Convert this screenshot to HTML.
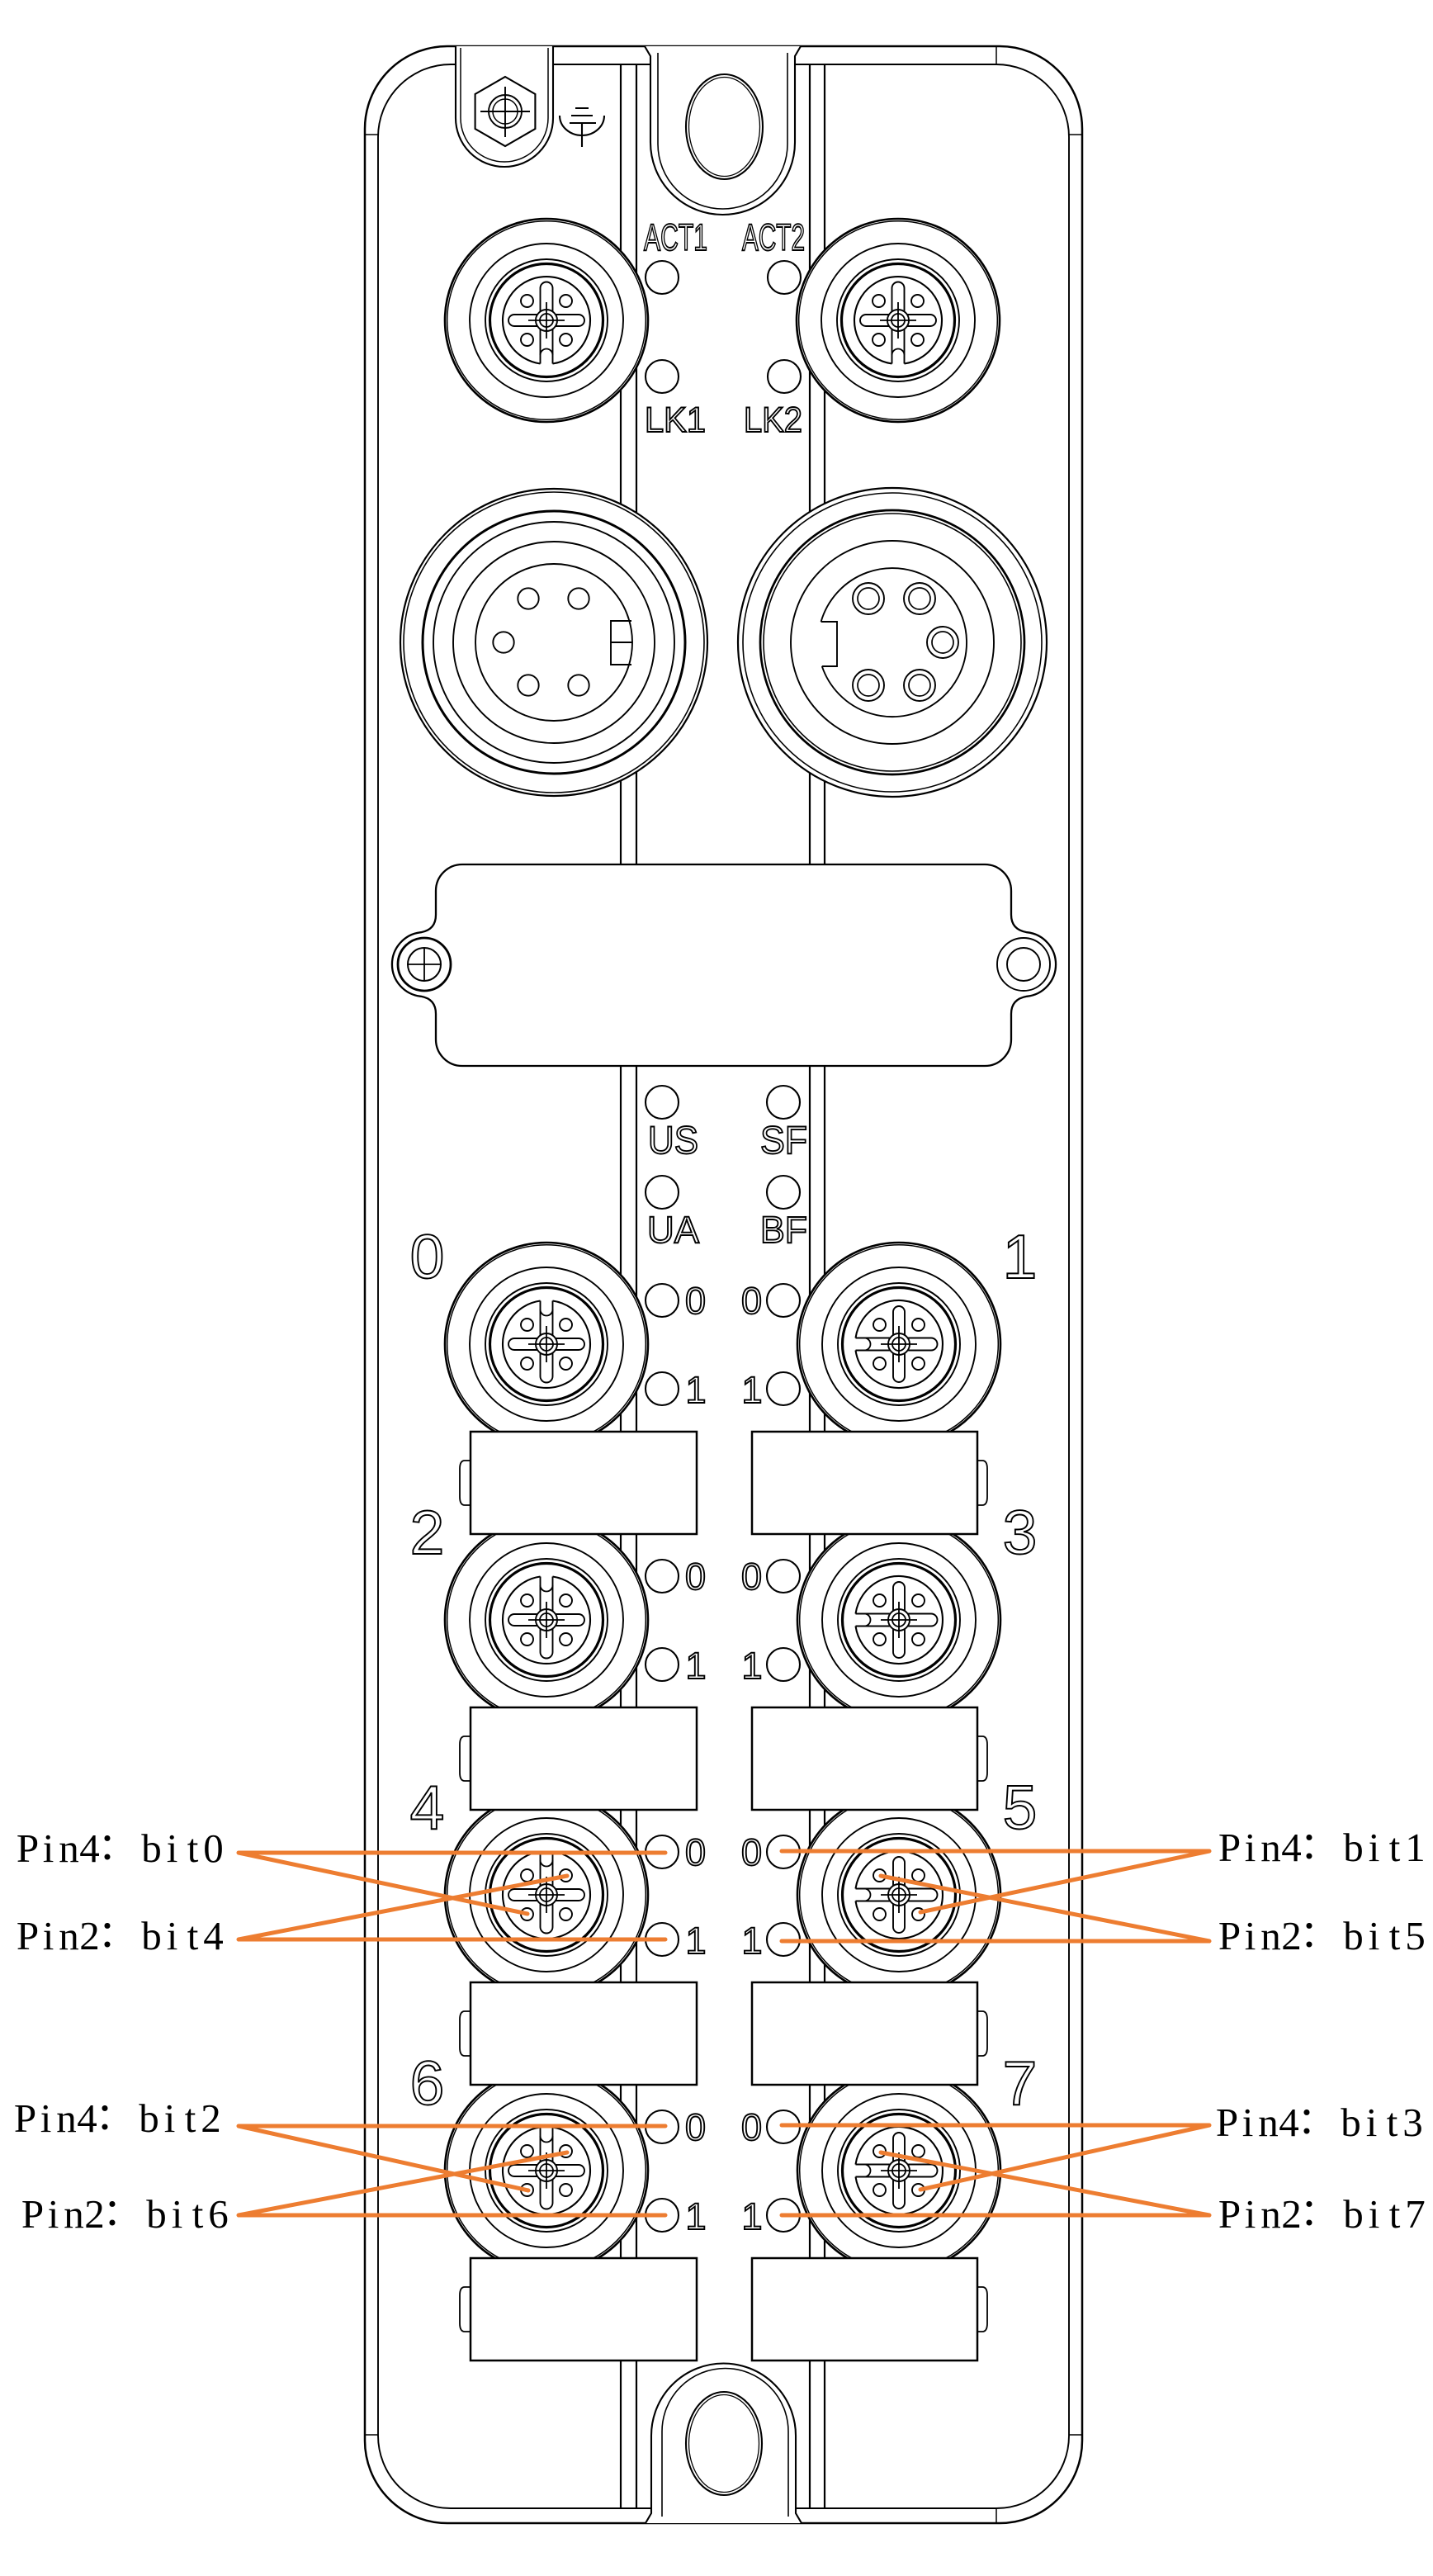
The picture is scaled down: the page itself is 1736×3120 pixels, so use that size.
<!DOCTYPE html>
<html><head><meta charset="utf-8">
<style>
html,body{margin:0;padding:0;background:#fff;}
svg{display:block}
.o{font-family:"Liberation Sans",sans-serif;fill:#fff;stroke:#000;stroke-width:1.9}
.p{font-family:"Liberation Serif","Noto Serif CJK SC",serif;font-size:49px;fill:#000}
.c{font-family:"Liberation Sans","Noto Sans CJK JP",sans-serif;font-size:46px;fill:#000}
</style></head><body>
<svg width="1736" height="3120" viewBox="0 0 1736 3120" xmlns="http://www.w3.org/2000/svg">
<defs>
<g id="m12" fill="none" stroke="#000">
  <circle r="123" fill="#fff" stroke-width="2.6"/>
  <circle r="120.3" stroke-width="1.5"/>
  <circle r="93" stroke-width="1.9"/>
  <circle r="74" stroke-width="1.9"/>
  <circle r="68.5" stroke-width="3.2"/>
  <path d="M-7.5,-52.5 A53,53 0 1 0 7.5,-52.5" stroke-width="2.1"/>
  <path d="M-7.5,-52.5 L-7.5,-7 L-39,-7 A7,7 0 0 0 -39,7 L-7.5,7 L-7.5,39 A7.5,7.5 0 0 0 7.5,39 L7.5,7 L39,7 A7,7 0 0 0 39,-7 L7.5,-7 L7.5,-52.5" stroke-width="1.9"/>
  <path d="M-7.5,-42 A7.5,7.5 0 0 0 7.5,-42" stroke-width="1.8"/>
  <circle cx="-23.5" cy="-23.5" r="7.5" stroke-width="1.9"/>
  <circle cx="23.5" cy="-23.5" r="7.5" stroke-width="1.9"/>
  <circle cx="-23.5" cy="23.5" r="7.5" stroke-width="1.9"/>
  <circle cx="23.5" cy="23.5" r="7.5" stroke-width="1.9"/>
  <circle r="13" fill="#fff" stroke-width="1.9"/>
  <circle r="8" stroke-width="1.8"/>
  <path d="M-22,0 H22 M0,-22 V22" stroke-width="1.8"/>
</g>
<g id="bigL" fill="none" stroke="#000">
  <circle r="186" fill="#fff" stroke-width="2.2"/>
  <circle r="182" stroke-width="1.6"/>
  <circle r="159" stroke-width="3"/>
  <circle r="146" stroke-width="1.9"/>
  <circle r="122" stroke-width="1.9"/>
  <circle r="95" stroke-width="1.9"/>
  <circle cx="-31" cy="-53" r="12.7" stroke-width="1.9"/>
  <circle cx="30" cy="-53" r="12.7" stroke-width="1.9"/>
  <circle cx="-61" cy="0" r="12.7" stroke-width="1.9"/>
  <circle cx="-31" cy="52" r="12.7" stroke-width="1.9"/>
  <circle cx="30" cy="52" r="12.7" stroke-width="1.9"/>
  <path d="M94,-26 H69 V27 H94 M69,0 H95" stroke-width="1.9"/>
</g>
<g id="bigR" fill="none" stroke="#000">
  <circle r="187" fill="#fff" stroke-width="2.2"/>
  <circle r="181" stroke-width="1.6"/>
  <circle r="160" stroke-width="2.7"/>
  <circle r="156" stroke-width="1.6"/>
  <circle r="123" stroke-width="1.9"/>
  <path d="M-86.4,-25 A90,90 0 1 1 -85.2,29" stroke-width="1.9"/>
  <path d="M-86.4,-25 H-67 V29 H-85.2" stroke-width="1.9"/>
  <circle cx="-29" cy="-53" r="19" stroke-width="1.9"/><circle cx="-29" cy="-53" r="13" stroke-width="1.7"/>
  <circle cx="33" cy="-53" r="19" stroke-width="1.9"/><circle cx="33" cy="-53" r="13" stroke-width="1.7"/>
  <circle cx="61" cy="0" r="19" stroke-width="1.9"/><circle cx="61" cy="0" r="13" stroke-width="1.7"/>
  <circle cx="-29" cy="52" r="19" stroke-width="1.9"/><circle cx="-29" cy="52" r="13" stroke-width="1.7"/>
  <circle cx="33" cy="52" r="19" stroke-width="1.9"/><circle cx="33" cy="52" r="13" stroke-width="1.7"/>
</g>
<g id="rectL" fill="#fff" stroke="#000">
  <path d="M570,35 H563 Q557,35 557,45 V79 Q557,89 563,89 H570" stroke-width="1.8"/>
  <rect x="570" y="0" width="274" height="124" stroke-width="2.5"/>
</g>
<g id="rectR" fill="#fff" stroke="#000">
  <path d="M1184,35 H1190 Q1196,35 1196,45 V79 Q1196,89 1190,89 H1184" stroke-width="1.8"/>
  <rect x="911" y="0" width="273" height="124" stroke-width="2.5"/>
</g>
<circle id="led" r="20" fill="#fff" stroke="#000" stroke-width="2.1"/>
</defs>

<rect width="1736" height="3120" fill="#fff"/>
<g fill="none" stroke="#000" stroke-width="2">
  <!-- body -->
  <path d="M542,56 H1211 A100,100 0 0 1 1311,156 V2956 A100,100 0 0 1 1211,3056 H542 A100,100 0 0 1 442,2956 V156 A100,100 0 0 1 542,56 Z" fill="#fff" stroke-width="2.5"/>
  <path d="M546,78 H1207 A88,88 0 0 1 1295,166 V2950 A88,88 0 0 1 1207,3038 H546 A88,88 0 0 1 458,2950 V166 A88,88 0 0 1 546,78 Z" stroke-width="1.9"/>
  <path d="M1207,56 V78 M442,163 H458 M1295,163 H1311 M442,2949 H458 M1295,2949 H1311 M1207,3038 V3056" stroke-width="1.5"/>
  <!-- strips -->
  <path d="M752,78 V3038 M771,78 V3038 M981,78 V3038 M999,78 V3038" stroke-width="2.2"/>

  <!-- top slot -->
  <path d="M781,56 L788,68 V172.5 A87.5,87.5 0 0 0 963,172.5 V68 L970,56" fill="#fff" stroke-width="2.1"/>
  <path d="M797,64 V174.5 A78.5,78.5 0 0 0 954,174.5 V64" stroke-width="1.6"/>
  <ellipse cx="877.5" cy="153.5" rx="46.5" ry="63.5" stroke-width="2.1"/>
  <ellipse cx="877.5" cy="153.5" rx="43" ry="60" stroke-width="1.3"/>

  <!-- bottom slot -->
  <path d="M782,3056 L789,3044 V2950 A87.5,87.5 0 0 1 964,2950 V3044 L971,3056" fill="#fff" stroke-width="2.1"/>
  <path d="M802,3048 V2945 A76.5,76.5 0 0 1 955,2945 V3048" stroke-width="1.6"/>
  <ellipse cx="877" cy="2959.5" rx="46" ry="62.5" stroke-width="2.1"/>
  <ellipse cx="877" cy="2959.5" rx="42.5" ry="59" stroke-width="1.3"/>

  <!-- ground tab -->
  <path d="M552,56 V143 A59,59 0 0 0 670,143 V56" fill="#fff" stroke-width="2.1"/>
  <path d="M558,58 V143 A53,53 0 0 0 664,143 V58" stroke-width="1.5"/>
  <path d="M612,93 L648.4,114 L648.4,156 L612,177 L575.6,156 L575.6,114 Z" fill="#fff" stroke-width="2.1"/>
  <circle cx="612" cy="135" r="20" stroke-width="1.9"/>
  <circle cx="612" cy="135" r="15" stroke-width="1.5"/>
  <path d="M582,135 H642 M612,105 V166" stroke-width="1.9"/>
  <!-- ground symbol -->
  <path d="M697,131 H713 M692,140 H718 M690,149 H722 M705,149 V178" stroke-width="2.1"/>
  <path d="M678,140 A27,24 0 0 0 732,140" stroke-width="2.1"/>

  <!-- top M12 connectors -->
  <use href="#m12" transform="translate(662,388) rotate(180)"/>
  <use href="#m12" transform="translate(1088,388) rotate(180)"/>

  <!-- big connectors -->
  <use href="#bigL" transform="translate(671,778)"/>
  <use href="#bigR" transform="translate(1081,778)"/>

  <!-- plate -->
  <path d="M560,1047 H1193 A32,32 0 0 1 1225,1079 V1108 Q1225,1126 1244,1129.2 A39,39 0 0 1 1244,1206.8 Q1225,1210 1225,1228 V1259 A32,32 0 0 1 1193,1291 H560 A32,32 0 0 1 528,1259 V1228 Q528,1210 510,1206.8 A39,39 0 0 1 510,1129.2 Q528,1126 528,1108 V1079 A32,32 0 0 1 560,1047 Z" fill="#fff" stroke-width="2.3"/>
  <circle cx="514" cy="1168" r="32" stroke-width="2.8"/>
  <circle cx="514" cy="1168" r="20" stroke-width="2"/>
  <path d="M494,1168 H534 M514,1148 V1188" stroke-width="1.8"/>
  <circle cx="1240" cy="1168" r="32" stroke-width="1.9"/>
  <circle cx="1240" cy="1168" r="20" stroke-width="1.9"/>

  <!-- IO connectors -->
  <use href="#m12" transform="translate(662,1628)"/>
  <use href="#m12" transform="translate(1089,1628) rotate(-90)"/>
  <use href="#m12" transform="translate(662,1962)"/>
  <use href="#m12" transform="translate(1089,1962) rotate(-90)"/>
  <use href="#m12" transform="translate(662,2295)"/>
  <use href="#m12" transform="translate(1089,2295) rotate(-90)"/>
  <use href="#m12" transform="translate(662,2629)"/>
  <use href="#m12" transform="translate(1089,2629) rotate(-90)"/>

  <!-- rects -->
  <use href="#rectL" transform="translate(0,1734)"/>
  <use href="#rectR" transform="translate(0,1734)"/>
  <use href="#rectL" transform="translate(0,2068)"/>
  <use href="#rectR" transform="translate(0,2068)"/>
  <use href="#rectL" transform="translate(0,2401)"/>
  <use href="#rectR" transform="translate(0,2401)"/>
  <use href="#rectL" transform="translate(0,2735)"/>
  <use href="#rectR" transform="translate(0,2735)"/>
</g>

<!-- LEDs -->
<use href="#led" x="802" y="336"/><use href="#led" x="950" y="336"/>
<use href="#led" x="802" y="456"/><use href="#led" x="950" y="456"/>
<use href="#led" x="802" y="1335"/><use href="#led" x="949" y="1335"/>
<use href="#led" x="802" y="1444"/><use href="#led" x="949" y="1444"/>
<use href="#led" x="802" y="1575"/><use href="#led" x="949" y="1575"/>
<use href="#led" x="802" y="1682"/><use href="#led" x="949" y="1682"/>
<use href="#led" x="802" y="1909"/><use href="#led" x="949" y="1909"/>
<use href="#led" x="802" y="2016"/><use href="#led" x="949" y="2016"/>
<use href="#led" x="802" y="2243"/><use href="#led" x="949" y="2243"/>
<use href="#led" x="802" y="2349"/><use href="#led" x="949" y="2349"/>
<use href="#led" x="802" y="2576"/><use href="#led" x="949" y="2576"/>
<use href="#led" x="802" y="2683"/><use href="#led" x="949" y="2683"/>

<!-- outlined labels -->
<g class="o">
  <text x="780" y="303" font-size="45" textLength="77" lengthAdjust="spacingAndGlyphs">ACT1</text>
  <text x="899" y="303" font-size="45" textLength="76" lengthAdjust="spacingAndGlyphs">ACT2</text>
  <text x="781" y="523" font-size="43" textLength="74" lengthAdjust="spacingAndGlyphs">LK1</text>
  <text x="901" y="523" font-size="43" textLength="71" lengthAdjust="spacingAndGlyphs">LK2</text>
  <text x="785" y="1397" font-size="47" textLength="61" lengthAdjust="spacingAndGlyphs">US</text>
  <text x="921" y="1397" font-size="47" textLength="57" lengthAdjust="spacingAndGlyphs">SF</text>
  <text x="784" y="1505" font-size="45" textLength="63" lengthAdjust="spacingAndGlyphs">UA</text>
  <text x="921" y="1505" font-size="45" textLength="57" lengthAdjust="spacingAndGlyphs">BF</text>
</g>
<g class="o" font-size="75" text-anchor="middle">
  <text x="517.5" y="1548">0</text><text x="1235.5" y="1548">1</text>
  <text x="517.5" y="1882">2</text><text x="1235.5" y="1882">3</text>
  <text x="517.5" y="2215">4</text><text x="1235.5" y="2215">5</text>
  <text x="517.5" y="2549">6</text><text x="1235.5" y="2549">7</text>
</g>
<g class="o" font-size="45" text-anchor="middle">
  <text x="842.5" y="1591">0</text><text x="910.5" y="1591">0</text>
  <text x="843" y="1699">1</text><text x="911" y="1699">1</text>
  <text x="842.5" y="1925">0</text><text x="910.5" y="1925">0</text>
  <text x="843" y="2033">1</text><text x="911" y="2033">1</text>
  <text x="842.5" y="2259">0</text><text x="910.5" y="2259">0</text>
  <text x="843" y="2366">1</text><text x="911" y="2366">1</text>
  <text x="842.5" y="2592">0</text><text x="910.5" y="2592">0</text>
  <text x="843" y="2700">1</text><text x="911" y="2700">1</text>
</g>

<!-- orange connectors -->
<g stroke="#ED7D31" stroke-width="5" stroke-linecap="round" fill="none">
  <path d="M289,2244 H806 M289,2244 L639,2318 M289,2349 H806 M289,2349 L687,2272"/>
  <path d="M289,2575 H806 M289,2575 L640,2653 M289,2683 H806 M289,2683 L687,2607"/>
  <path d="M1465,2242 H947 M1465,2242 L1115,2316 M1465,2351 H947 M1465,2351 L1067,2272"/>
  <path d="M1465,2574 H947 M1465,2574 L1115,2652 M1465,2683 H947 M1465,2683 L1067,2607"/>
</g>

<!-- pin labels -->
<g class="p" text-anchor="middle">
  <text x="33.5 58.5 83.5 108.5" y="2255">Pin4</text>
  <text x="183.5 208.5 233.5 258.5" y="2255">bit0</text>
  <text x="33.5 58.5 83.5 108.5" y="2361">Pin2</text>
  <text x="183.5 208.5 233.5 258.5" y="2361">bit4</text>
  <text x="30.5 55.5 80.5 105.5" y="2582">Pin4</text>
  <text x="180.5 205.5 230.5 255.5" y="2582">bit2</text>
  <text x="39.5 64.5 89.5 114.5" y="2698">Pin2</text>
  <text x="189.5 214.5 239.5 264.5" y="2698">bit6</text>

  <text x="1489.5 1514.5 1539.5 1564.5" y="2254">Pin4</text>
  <text x="1639.5 1664.5 1689.5 1714.5" y="2254">bit1</text>
  <text x="1489.5 1514.5 1539.5 1564.5" y="2361">Pin2</text>
  <text x="1639.5 1664.5 1689.5 1714.5" y="2361">bit5</text>
  <text x="1486.5 1511.5 1536.5 1561.5" y="2587">Pin4</text>
  <text x="1636.5 1661.5 1686.5 1711.5" y="2587">bit3</text>
  <text x="1489.5 1514.5 1539.5 1564.5" y="2698">Pin2</text>
  <text x="1639.5 1664.5 1689.5 1714.5" y="2698">bit7</text>
</g>
<g class="c" text-anchor="middle">
  <text x="130" y="2255">：</text>
  <text x="130" y="2361">：</text>
  <text x="127" y="2582">：</text>
  <text x="136" y="2698">：</text>
  <text x="1586" y="2254">：</text>
  <text x="1586" y="2361">：</text>
  <text x="1583" y="2587">：</text>
  <text x="1586" y="2698">：</text>
</g>
</svg>
</body></html>
